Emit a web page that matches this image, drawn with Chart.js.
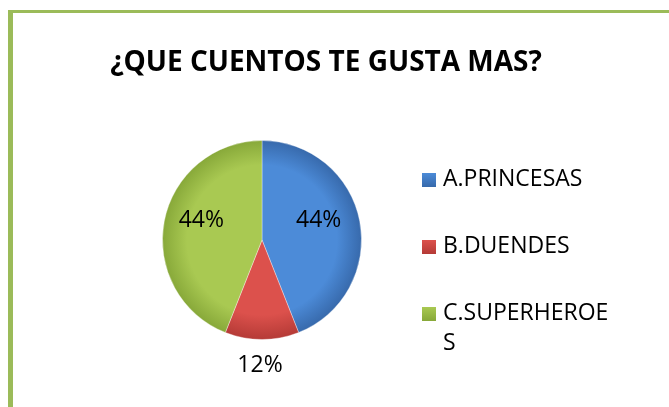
<!DOCTYPE html>
<html>
<head>
<meta charset="utf-8">
<script src="https://cdn.jsdelivr.net/npm/chart.js@4"></script>
<style>
  html, body { margin: 0; padding: 0; background: #fff; overflow: hidden; }
  #frame {
    position: absolute; left: 8px; top: 10px; width: 720px; height: 460px;
    border-left: 5px solid #9bbb59; border-top: 3px solid #9bbb59;
  }
  #chart { position: absolute; left: 0; top: 0; }
</style>
</head>
<body>
<div id="frame"></div>
<canvas id="chart" width="669" height="407"></canvas>
<script>
// data
const title = '¿QUE CUENTOS TE GUSTA MAS?';
const categories = ['A.PRINCESAS', 'B.DUENDES', 'C.SUPERHEROES'];
const percentages = [44, 12, 44];

// slice colours: [light centre, dark rim]
const sliceColors = [
    ['#4c8bd8', '#3769ab'],
    ['#dc514c', '#b43a36'],
    ['#a9c952', '#87a839']
];

const FONT = '"Open Sans", "Liberation Sans", sans-serif';

// shaded fill for each slice, like the bevelled office pie
const sliceFill = (context) => {
    const chart = context.chart;
    const pair = sliceColors[context.dataIndex];
    const area = chart.chartArea;
    if (!area) return pair[0];
    const cx = (area.left + area.right) / 2;
    const cy = (area.top + area.bottom) / 2;
    const r = Math.min(area.right - area.left, area.bottom - area.top) / 2;
    const g = chart.ctx.createRadialGradient(cx, cy, 0, cx, cy, r);
    g.addColorStop(0, pair[0]);
    g.addColorStop(0.75, pair[0]);
    g.addColorStop(1, pair[1]);
    return g;
};

// title, percentage labels and the legend on the right
const decorations = {
    id: 'decorations',
    afterDraw(chart) {
        const ctx = chart.ctx;
        const meta = chart.getDatasetMeta(0);
        ctx.save();
        ctx.textBaseline = 'alphabetic';

        // title
        ctx.fillStyle = '#000';
        ctx.font = 'bold 28px ' + FONT;
        ctx.textAlign = 'center';
        ctx.fillText(title, 326, 71);

        // percentage labels (cap centre placed on the anchor point)
        ctx.font = '23px ' + FONT;
        meta.data.forEach((arc, i) => {
            const p = arc.getProps(['x', 'y', 'startAngle', 'endAngle', 'outerRadius'], true);
            const mid = (p.startAngle + p.endAngle) / 2;
            const outside = percentages[i] < 20;
            const dist = outside ? p.outerRadius + 24 : p.outerRadius * 0.6;
            const x = p.x + Math.cos(mid) * dist;
            const y = p.y + Math.sin(mid) * dist - (outside ? 0 : 10);
            ctx.fillText(percentages[i] + '%', x - 2, y + 8);
        });

        // legend
        ctx.textAlign = 'left';
        const lx = 422, tx = 443, maxW = 170;
        let y = 186;
        categories.forEach((name, i) => {
            const pair = sliceColors[i];
            const g = ctx.createLinearGradient(0, y - 13, 0, y + 1);
            g.addColorStop(0, pair[0]);
            g.addColorStop(1, pair[1]);
            ctx.fillStyle = g;
            ctx.fillRect(lx, y - 13, 14, 14);
            ctx.fillStyle = '#000';
            // break long names by characters
            const lines = [];
            let line = '';
            for (const ch of name) {
                if (ctx.measureText(line + ch).width > maxW && line) {
                    lines.push(line);
                    line = ch;
                } else {
                    line += ch;
                }
            }
            lines.push(line);
            lines.forEach((l, k) => ctx.fillText(l, tx, y + k * 30));
            y += 67;
        });
        ctx.restore();
    }
};

new Chart(document.getElementById('chart').getContext('2d'), {
    type: 'pie',
    data: {
        labels: categories,
        datasets: [{
            data: percentages,
            backgroundColor: sliceFill,
            borderColor: 'rgba(255,255,255,0.35)',
            borderWidth: 1
        }]
    },
    options: {
        responsive: false,
        animation: false,
        layout: { padding: { left: 162, right: 307, top: 140, bottom: 67 } },
        plugins: {
            legend: { display: false },
            title: { display: false },
            tooltip: { enabled: false }
        }
    },
    plugins: [decorations]
});
</script>
</body>
</html>
